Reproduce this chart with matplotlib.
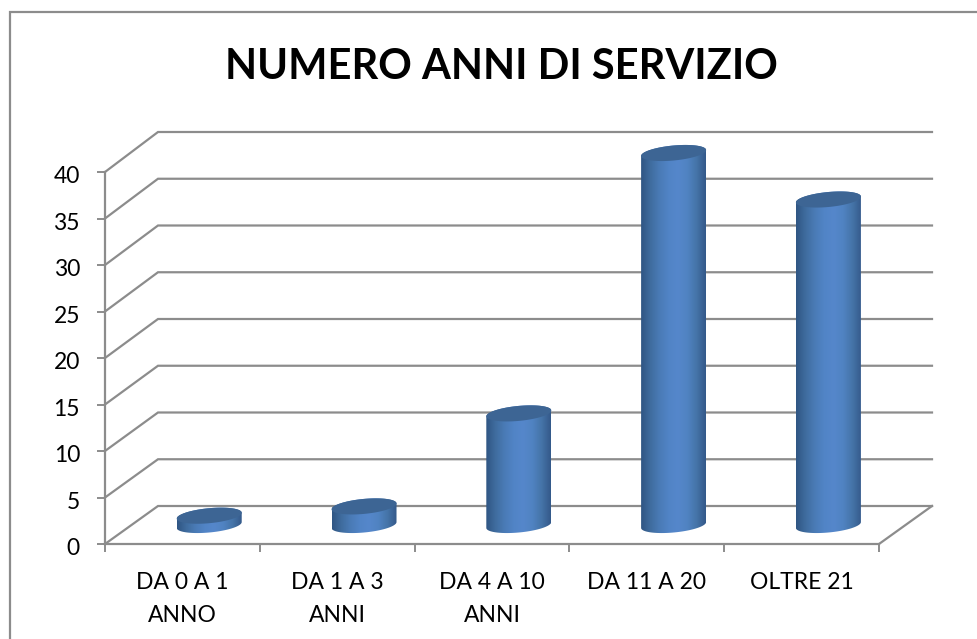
import numpy as np
import matplotlib
matplotlib.use("Agg")
import matplotlib.pyplot as plt
from matplotlib.colors import LinearSegmentedColormap
from matplotlib.lines import Line2D
from matplotlib.patches import Polygon
from matplotlib.transforms import ScaledTranslation

# data
categories = ["DA 0 A 1\nANNO", "DA 1 A 3\nANNI", "DA 4 A 10\nANNI", "DA 11 A 20", "OLTRE 21"]
values = [1, 2, 12, 40, 35]
y_ticks = [0, 5, 10, 15, 20, 25, 30, 35, 40]
title = "NUMERO ANNI DI SERVIZIO"

W, H = 978, 639
GRAY = "#8c8c8c"

plt.rcParams["font.family"] = ["Lato", "DejaVu Sans"]

fig = plt.figure(figsize=(W / 100, H / 100), dpi=100)
fig.patch.set_facecolor("white")

# front plane of the 3d box, in pixels
left, right, y0, y40 = 105, 879, 544, 172
ax = fig.add_axes([left / W, (H - y0) / H, (right - left) / W, (y0 - y40) / H])
ax.set_xlim(0, len(categories))
ax.set_ylim(0, 40)
ax.patch.set_alpha(0)

px_x = (right - left) / len(categories)
px_y = (y0 - y40) / 40
DX = 53 / px_x   # depth of the box
DY = 38 / px_y
BACK = 374 / 372  # back wall is a touch taller than the front

# floor + back wall lines
for v in y_ticks:
    ax.plot([0, DX, len(categories) + DX], [v, v * BACK + DY, v * BACK + DY], color=GRAY, lw=1.6,
            clip_on=False, zorder=1, solid_joinstyle="miter")
ax.plot([len(categories), len(categories) + DX], [0, DY], color=GRAY, lw=1.6, clip_on=False, zorder=1)

for s in ["top", "right"]:
    ax.spines[s].set_visible(False)
for s in ["left", "bottom"]:
    ax.spines[s].set_color(GRAY)
    ax.spines[s].set_linewidth(1.6)
    ax.spines[s].set_zorder(2)

ax.set_yticks(y_ticks)
ax.set_xticks(range(len(categories) + 1))
ax.set_xticks(np.arange(len(categories)) + 0.5, categories, minor=True)
ax.tick_params(axis="x", which="major", labelbottom=False, direction="out", length=6, width=1.4, color=GRAY)
ax.tick_params(axis="x", which="minor", length=0, pad=20, labelsize=16.5, labelcolor="black")
ax.tick_params(axis="y", direction="out", length=6, width=1.4, color=GRAY, labelsize=16.5, pad=12)
for lab in ax.get_xticklabels(minor=True):
    lab.set_linespacing(1.7)
for lab in ax.get_yticklabels():
    lab.set_transform(lab.get_transform() + ScaledTranslation(0, -2 / 72, fig.dpi_scale_trans))

# cylinders
shade = LinearSegmentedColormap.from_list(
    "cyl", ["#2f5583", "#3f6c9e", "#4a7bb6", "#5184c6", "#5587cb", "#5083c2", "#4574a8", "#34598a"])
a = 32.5 / px_x
b = 7.5 / px_y
k = 0.09 * 32.5 / px_y
t = np.linspace(0, 2 * np.pi, 181)

for i, v in enumerate(values):
    cx = i + 0.5 + DX / 2 + 0.002
    base = DY / 2
    top = v + DY / 2
    # lower half of base, then back along the upper half of the top
    tb = np.linspace(np.pi, 2 * np.pi, 90)
    tt = np.linspace(0, np.pi, 90)
    body = np.vstack([
        np.c_[cx + a * np.cos(tb), base + b * np.sin(tb) + k * np.cos(tb)],
        np.c_[cx + a * np.cos(tt), top + b * np.sin(tt) + k * np.cos(tt)],
    ])
    clip = Polygon(body, closed=True, transform=ax.transData, fc="none", ec="none", clip_on=False)
    ax.add_patch(clip)
    grad = np.linspace(0, 1, 256).reshape(1, -1)
    im = ax.imshow(grad, cmap=shade, aspect="auto", zorder=3,
                   extent=[cx - a, cx + a, base - 2 * b, top + 2 * b], interpolation="bilinear")
    im.set_clip_box(fig.bbox)
    im.set_clip_path(clip)
    cap = np.c_[cx + a * np.cos(t), top + b * np.sin(t) + k * np.cos(t)]
    ax.add_patch(Polygon(cap, closed=True, fc="#3d6594", ec="none", zorder=4, clip_on=False))

# imshow resets limits
ax.set_xlim(0, len(categories))
ax.set_ylim(0, 40)

fig.text(501 / W, 1 - 67 / H, title, ha="center", va="center", fontsize=30, fontweight="bold", color="black")

# chart border, only left and top show
fig.add_artist(Line2D([10 / W, 10 / W, 1], [0, 1 - 12 / H, 1 - 12 / H], color=GRAY, lw=1.6,
                      transform=fig.transFigure, solid_joinstyle="miter"))

fig.savefig("out.png", dpi=100)
